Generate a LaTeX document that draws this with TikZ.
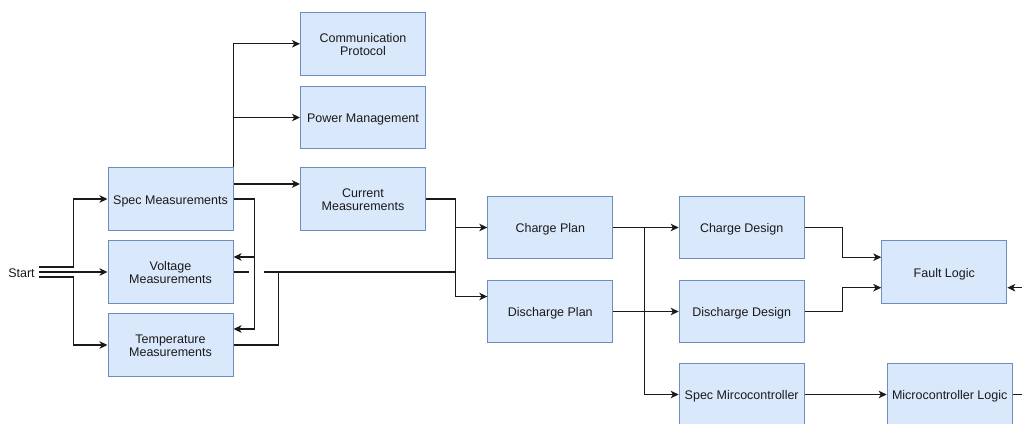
\documentclass[tikz,border=0pt]{standalone}
\usepackage{fontspec}
\setmainfont{Liberation Sans}
\usetikzlibrary{arrows.meta}
\definecolor{boxfill}{HTML}{DAE8FC}
\definecolor{boxline}{HTML}{6C8EBF}
\definecolor{ink}{HTML}{1A1A1A}
% centred block label, drawn slightly lower than its measured box
\newcommand\blk[1]{\raisebox{-2.5pt}[\height][\depth]{\begin{tabular}{@{}c@{}}#1\end{tabular}}}
\tikzset{
  block/.style={draw=boxline, fill=boxfill, line width=1pt,
    minimum width=125pt, minimum height=62.5pt, inner sep=0pt,
    text=ink, font=\fontsize{12.5}{13.5}\selectfont},
  wire/.style={draw=ink, line width=1.2pt},
  arr/.style={wire, -{Stealth[length=8pt,width=7.5pt,inset=2.2pt]}}
}
\begin{document}
\begin{tikzpicture}[x=1pt,y=-1pt]
\useasboundingbox (0,0) rectangle (1022,423);
\clip (0,0) rectangle (1022,423);
\fill[white] (0,0) rectangle (1022,423);

% blocks
\node[block] (spec)  at (170.5,199)   {\blk{Spec Measurements}};
\node[block] (volt)  at (170.5,272)   {\blk{Voltage\\Measurements}};
\node[block] (temp)  at (170.5,345)   {\blk{Temperature\\Measurements}};
\node[block] (comm)  at (363,43.8)    {\blk{Communication\\Protocol}};
\node[block] (power) at (363,117.5)   {\blk{Power Management}};
\node[block] (curr)  at (363,199)     {\blk{Current\\Measurements}};
\node[block] (cplan) at (550.3,227.5) {\blk{Charge Plan}};
\node[block] (dplan) at (550.3,311.5) {\blk{Discharge Plan}};
\node[block] (cdes)  at (741.7,227.5) {\blk{Charge Design}};
\node[block] (ddes)  at (741.7,311.5) {\blk{Discharge Design}};
\node[block] (smc)   at (741.7,394.5) {\blk{Spec Mircocontroller}};
\node[block] (fault) at (944.3,272.2) {\blk{Fault Logic}};
\node[block] (mlog)  at (949.7,394.5) {\blk{Microcontroller Logic}};
\node[inner xsep=4.5pt, inner ysep=0pt, text=ink,
      font=\fontsize{12.5}{14}\selectfont] (start) at (21.5,273) {Start};

\coordinate (bus) at (456,272);
\coordinate (outA) at (1030,394.5);
\coordinate (outB) at (1030,287.7);

% start fan-out
\draw[arr] ([yshift=6pt]start.east) -| ([xshift=-34pt]spec.west) -- (spec.west);
\draw[arr] ([yshift=1pt]start.east) -- (volt.west);
\draw[arr] ([yshift=-4pt]start.east) -| ([xshift=-34pt]temp.west) -- (temp.west);

% spec measurements outputs
\draw[arr] (spec.north east) |- (comm.west);
\draw[arr] (spec.north east |- power.west) -- (power.west);
\draw[arr] ([yshift=15pt]spec.east) -- ([yshift=15pt]curr.west);
\draw[arr] (spec.east) -| ([xshift=21pt,yshift=16pt]temp.east) -- ([yshift=16pt]temp.east);
\draw[arr] ([xshift=21pt,yshift=15pt]volt.east) -- ([yshift=15pt]volt.east);

% voltage / temperature to the plans (with a jump gap)
\draw[wire] (volt.east) -- ([xshift=15pt]volt.east);
\draw[wire] ([xshift=30pt]volt.east) -- (bus);
\draw[wire] (temp.east) -| ([xshift=45pt]volt.east);

% current measurements to the plans
\draw[arr] (curr.east) -| ([xshift=-32pt,yshift=15pt]dplan.west) -- ([yshift=15pt]dplan.west);
\draw[arr] (bus |- cplan.west) -- (cplan.west);

% plans to designs
\draw[arr] (cplan.east) -- (cdes.west);
\draw[arr] (dplan.east) -- (ddes.west);
\draw[arr] ([xshift=31pt]cplan.east) |- (smc.west);

% designs to fault logic
\draw[arr] (cdes.east) -| ([xshift=-39pt,yshift=15pt]fault.west) -- ([yshift=15pt]fault.west);
\draw[arr] (ddes.east) -| ([xshift=-39pt,yshift=-15.5pt]fault.west) -- ([yshift=-15.5pt]fault.west);

% microcontroller chain
\draw[arr] (smc.east) -- (mlog.west);
\draw[wire] (mlog.east) -- (outA);
\draw[arr] (outB) -- ([yshift=-15.5pt]fault.east);
\end{tikzpicture}
\end{document}
